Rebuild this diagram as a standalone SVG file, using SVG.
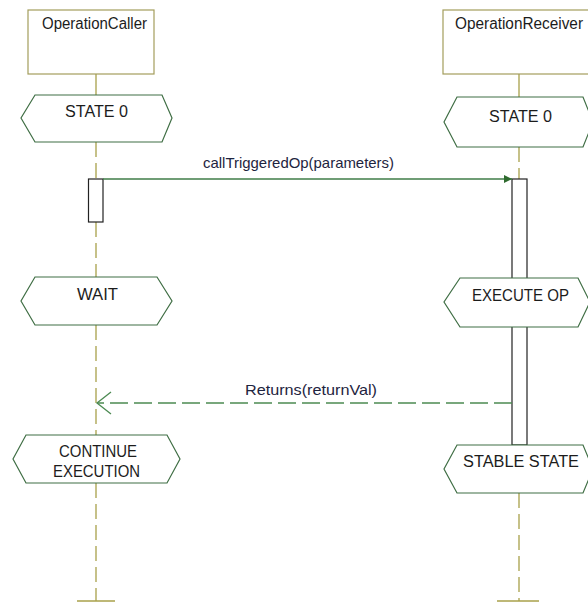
<svg xmlns="http://www.w3.org/2000/svg" width="588" height="606" viewBox="0 0 588 606">
<style>
.obj{fill:#ffffff;stroke:#a39d5c;stroke-width:1.2}
.hex{fill:#ffffff;stroke:#3f6e44;stroke-width:1.2}
.life{stroke:#a8a04a;stroke-width:1.3;fill:none;stroke-dasharray:15 6}
.solid{stroke:#a8a04a;stroke-width:1.3;fill:none}
.term{stroke:#a8a04a;stroke-width:1.3}
.act{fill:#ffffff;stroke:#222;stroke-width:1.2}
.msg{stroke:#3f7d47;stroke-width:1.5;fill:none}
.ret{stroke:#4c8a52;stroke-width:1.3;fill:none;stroke-dasharray:18 6}
text{font-family:"Liberation Sans",Arial,sans-serif;font-size:16px;fill:#1c1c1c}
.lbl{fill:#1e2440;font-size:15px}
</style>
<defs>
<marker id="filled" viewBox="0 0 10 10" refX="10" refY="5" markerWidth="8" markerHeight="8" markerUnits="userSpaceOnUse" orient="auto">
<path d="M0,0 L10,5 L0,10 z" fill="#2f6b2f"/>
</marker>
</defs>
<g id="lifelines">
<line class="solid" x1="96" y1="74" x2="96" y2="95"/>
<line class="life" x1="96" y1="142" x2="96" y2="179"/>
<line class="life" x1="96" y1="222" x2="96" y2="277"/>
<line class="life" x1="96" y1="325" x2="96" y2="435"/>
<line class="life" x1="96" y1="483" x2="96" y2="601"/>
<line class="term" x1="77" y1="601" x2="115" y2="601"/>
<line class="solid" x1="519" y1="74" x2="519" y2="97"/>
<line class="life" x1="519" y1="147" x2="519" y2="179"/>
<line class="life" x1="519" y1="493" x2="519" y2="601"/>
<line class="term" x1="497" y1="601" x2="539" y2="601"/>
</g>
<g id="OperationCaller">
<rect class="obj" x="28" y="10" width="126" height="64"/>
<text x="94.5" y="29" text-anchor="middle" textLength="105" lengthAdjust="spacingAndGlyphs">OperationCaller</text>
</g>
<g id="OperationReceiver">
<rect class="obj" x="443" y="10" width="160" height="64"/>
<text x="519" y="29" text-anchor="middle" textLength="128" lengthAdjust="spacingAndGlyphs">OperationReceiver</text>
</g>
<g id="caller-activation">
<rect class="act" x="88.5" y="179" width="14.5" height="43"/>
</g>
<g id="receiver-activation">
<rect class="act" x="512" y="179" width="15" height="266"/>
</g>
<g id="caller-state0">
<polygon class="hex" points="35,95 162,95 172,118 162,142 35,142 21,118"/>
<text x="96.5" y="117" text-anchor="middle" textLength="63" lengthAdjust="spacingAndGlyphs">STATE 0</text>
</g>
<g id="receiver-state0">
<polygon class="hex" points="457,97 583,97 593,122 583,147 457,147 444,122"/>
<text x="520.5" y="122" text-anchor="middle" textLength="63" lengthAdjust="spacingAndGlyphs">STATE 0</text>
</g>
<g id="wait">
<polygon class="hex" points="35,277 157,277 172,301 157,325 35,325 21,301"/>
<text x="97.5" y="300" text-anchor="middle" textLength="41" lengthAdjust="spacingAndGlyphs">WAIT</text>
</g>
<g id="execute-op">
<polygon class="hex" points="460,278 578,278 590,302 578,327 460,327 444,302"/>
<text x="520.5" y="301" text-anchor="middle" textLength="97" lengthAdjust="spacingAndGlyphs">EXECUTE OP</text>
</g>
<g id="continue-execution">
<polygon class="hex" points="26,435 167,435 180,459 167,483 26,483 13,459"/>
<text x="98" y="457" text-anchor="middle" textLength="78" lengthAdjust="spacingAndGlyphs">CONTINUE</text>
<text x="96.5" y="477" text-anchor="middle" textLength="87" lengthAdjust="spacingAndGlyphs">EXECUTION</text>
</g>
<g id="stable-state">
<polygon class="hex" points="457,445 583,445 593,469 583,493 457,493 444,469"/>
<text x="521" y="467" text-anchor="middle" textLength="116" lengthAdjust="spacingAndGlyphs">STABLE STATE</text>
</g>
<g id="connectors">
<line class="msg" x1="103" y1="179" x2="512" y2="179" marker-end="url(#filled)"/>
<text class="lbl" x="298.5" y="168" text-anchor="middle" textLength="191" lengthAdjust="spacingAndGlyphs">callTriggeredOp(parameters)</text>
<line class="ret" x1="512" y1="403" x2="97" y2="403"/>
<polyline points="111,392 97,403 111,414" fill="none" stroke="#4c8a52" stroke-width="1.3"/>
<text class="lbl" x="311" y="395" text-anchor="middle" textLength="132" lengthAdjust="spacingAndGlyphs">Returns(returnVal)</text>
</g>
</svg>
